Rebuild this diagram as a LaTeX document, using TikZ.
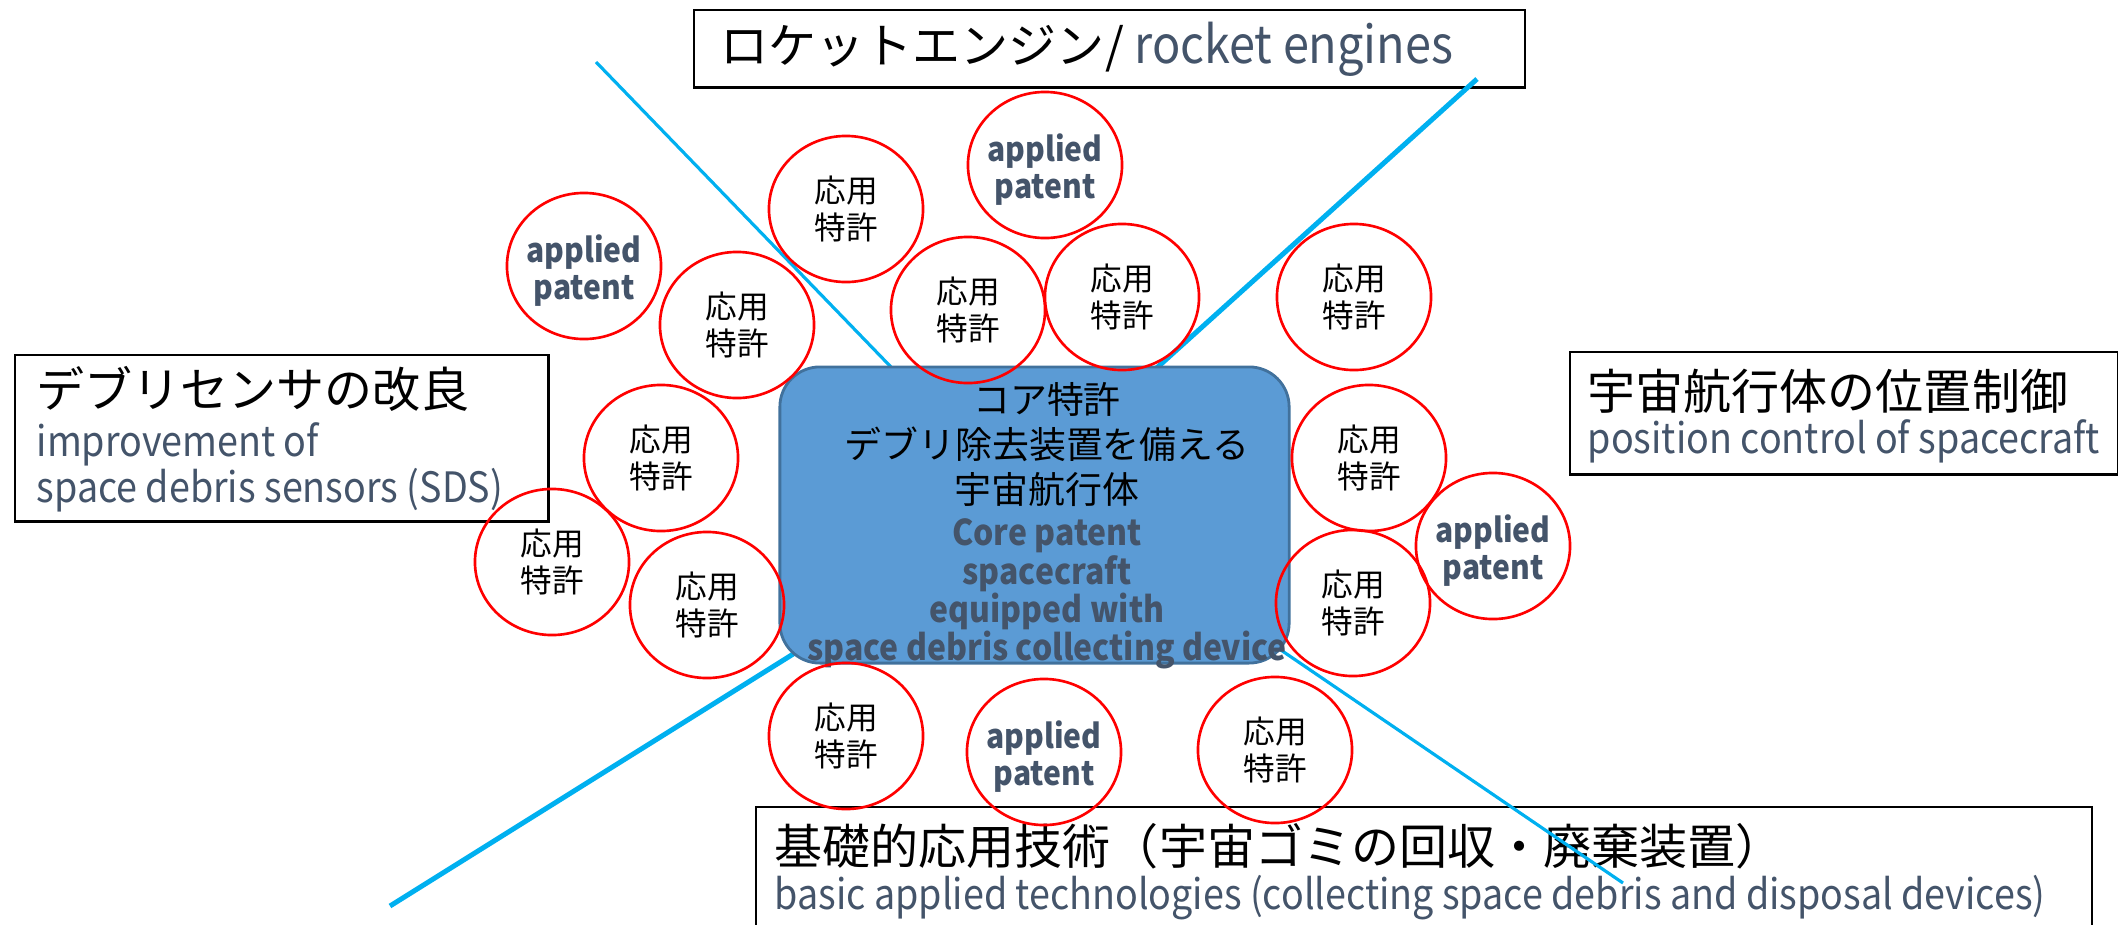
\documentclass[tikz,border=0pt]{standalone}
\usepackage{fontspec}
\setmainfont{Noto Sans CJK JP}
\newfontfamily\enfont{Noto Sans CJK JP}[FakeStretch=0.9]
\usetikzlibrary{shapes.geometric}
\definecolor{engray}{HTML}{44546A}
\definecolor{coreblue}{HTML}{5B9BD5}
\definecolor{coreedge}{HTML}{41719C}
\definecolor{lineblue}{HTML}{00B0F0}
\begin{document}
\begin{tikzpicture}[x=0.01cm,y=-0.01cm,
  frame/.style={draw=black,line width=0.7pt,inner sep=0,anchor=north west},
  jp/.style={anchor=base west,inner sep=0,font=\fontsize{13.66}{16}\selectfont},
  en/.style={anchor=base west,inner sep=0,text=engray,font=\enfont\fontsize{11.9}{14}\selectfont},
  septhin/.style={line width=0.9pt,draw=lineblue},
  septhick/.style={line width=1.42pt,draw=lineblue},
  circ/.style={draw=red,line width=0.75pt,ellipse,minimum width=1.54cm,minimum height=1.46cm,inner sep=0},
  cjp/.style={align=center,inner sep=0,font=\fontsize{9}{10.5}\selectfont},
  cen/.style={align=center,inner sep=0,text=engray,font=\enfont\bfseries\fontsize{9.5}{10.5}\selectfont},
  corebox/.style={draw=coreedge,fill=coreblue,line width=0.8pt,rounded corners=0.4cm,inner sep=0,minimum width=5.09cm,minimum height=2.96cm},
  ]
\useasboundingbox (0,0) rectangle (2118,924);
\clip (0,0) rectangle (2118,924);
% frames
\node[frame,minimum width=8.30cm,minimum height=0.77cm] (topbox) at (693,9) {};
\node[frame,minimum width=5.33cm,minimum height=1.66cm] (leftbox) at (14,354) {};
\node[frame,minimum width=5.48cm,minimum height=1.22cm] (rightbox) at (1569,351) {};
\node[frame,minimum width=13.35cm,minimum height=1.50cm] (botbox) at (755,806) {};
% frame texts
\node[jp] (toptx) at (720,64) {ロケットエンジン/ {\color{engray}\enfont\fontsize{14.8}{16}\selectfont rocket engines}};
\node[jp] (lefttx) at (36,407) {デブリセンサの改良};
\node[en] (lefte1) at (36,456) {improvement of};
\node[en] (lefte2) at (36,502) {space debris sensors (SDS)};
\node[jp] (righttx) at (1587,409) {宇宙航行体の位置制御};
\node[en] (righte) at (1587,453) {position control of spacecraft};
\node[jp] (bottx) at (774,864) {基礎的応用技術（宇宙ゴミの回収・廃棄装置）};
\node[en] (bote) at (774,909) {basic applied technologies (collecting space debris and disposal devices)};
% separating lines
\coordinate (ulA) at (596,62);  \coordinate (ulB) at (920,397);
\coordinate (urA) at (1477,79); \coordinate (urB) at (1140,383);
\coordinate (llA) at (390,906); \coordinate (llB) at (830,631);
\coordinate (lrA) at (1623,883);\coordinate (lrB) at (1250,629);
\draw[septhin] (ulA) -- (ulB);
\draw[septhick] (urA) -- (urB);
\draw[septhick] (llA) -- (llB);
\draw[septhin] (lrA) -- (lrB);
% core
\node[corebox] (core) at (1034.5,515) {};
\node[align=center,inner sep=0,font=\fontsize{10.5}{12.8}\selectfont] (corejp) at (1047,444) {コア特許\\デブリ除去装置を備える\\宇宙航行体};
\node[align=center,inner sep=0,text=engray,font=\enfont\bfseries\fontsize{10.1}{10.85}\selectfont] (coreen) at (1047,594) {Core patent\\spacecraft\\equipped with\\space debris collecting device};
% circles
\foreach \i/\x/\y in {2/846/209,4/737/325,5/968/310,6/1122/297,7/1354/297,8/661/458,9/1369/458,10/552/562,11/707/605,13/1353/603,14/846/736,16/1275/750}{
  \node[circ] (c\i) at (\x,\y) {};
  \node[cjp] (t\i) at (c\i) {応用\\特許};
}
\foreach \i/\x/\y in {1/584/266,3/1045/165,12/1493/546,15/1044/752}{
  \node[circ] (c\i) at (\x,\y) {};
  \node[cen,yshift=-4.5*0.01cm] (t\i) at (c\i) {applied\\patent};
}
\end{tikzpicture}
\end{document}
